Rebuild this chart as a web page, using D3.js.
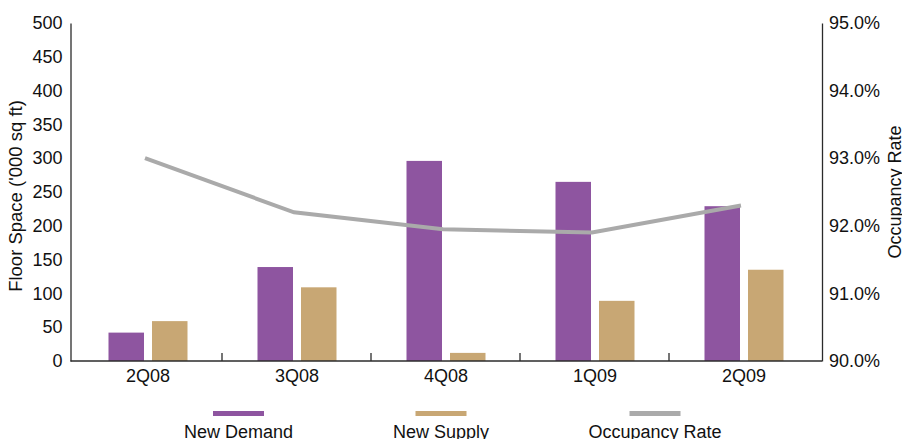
<!DOCTYPE html>
<html>
<head>
<meta charset="utf-8">
<script src="https://cdn.jsdelivr.net/npm/d3@7"></script>
<style>
  html, body { margin: 0; padding: 0; background: #fff; }
  svg { display: block; font-family: "Liberation Sans", Arial, sans-serif; }
</style>
</head>
<body>
<svg id="chart" width="902" height="439"></svg>
<script>
// Quarterly office floor space and occupancy
const quarters = ["2Q08", "3Q08", "4Q08", "1Q09", "2Q09"];
const newDemand = [42, 139, 296, 265, 229];
const newSupply = [59, 109, 12, 89, 135];
const occupancy = [93.0, 92.2, 91.95, 91.9, 92.3];
const leftTicks = [0, 50, 100, 150, 200, 250, 300, 350, 400, 450, 500];
const rightTicks = [90, 91, 92, 93, 94, 95];

const colors = { demand: "#8E55A0", supply: "#C8A774", occupancy: "#AAAAAA" };
const axisColor = "#2b2b2b";

const svg = d3.select("#chart");
const plot = { left: 70.5, right: 822, top: 23, bottom: 361 };

const x = d3.scaleBand().domain(quarters).range([73.5, 818.5]).paddingInner(0).paddingOuter(0);
const yLeft = d3.scaleLinear().domain([0, 500]).range([plot.bottom, plot.top]);
const yRight = d3.scaleLinear().domain([90, 95]).range([plot.bottom, plot.top]);

const barW = 35.5, gap = 8;
const center = q => x(q) + x.bandwidth() / 2;

// bars
const g = svg.append("g");
g.selectAll("rect.demand").data(quarters).join("rect")
  .attr("class", "demand")
  .attr("x", (q) => center(q) - gap / 2 - barW)
  .attr("width", barW)
  .attr("y", (q, i) => yLeft(newDemand[i]))
  .attr("height", (q, i) => yLeft(0) - yLeft(newDemand[i]))
  .attr("fill", colors.demand);

g.selectAll("rect.supply").data(quarters).join("rect")
  .attr("class", "supply")
  .attr("x", (q) => center(q) + gap / 2)
  .attr("width", barW)
  .attr("y", (q, i) => yLeft(newSupply[i]))
  .attr("height", (q, i) => yLeft(0) - yLeft(newSupply[i]))
  .attr("fill", colors.supply);

// occupancy line
const line = d3.line()
  .x((d, i) => center(quarters[i]) - 3)
  .y(d => yRight(d));
svg.append("path")
  .datum(occupancy)
  .attr("d", line)
  .attr("fill", "none")
  .attr("stroke", colors.occupancy)
  .attr("stroke-width", 4);

// left axis
const leftAxis = svg.append("g")
  .attr("transform", `translate(${plot.left},0)`)
  .call(d3.axisLeft(yLeft).tickValues(leftTicks).tickSize(0).tickPadding(8));
leftAxis.select(".domain").attr("stroke", axisColor).attr("stroke-width", 1.3);
leftAxis.selectAll("text").attr("font-size", 18).attr("fill", "#111")
  .attr("font-family", "Liberation Sans, Arial, sans-serif");

// right axis
const rightAxis = svg.append("g")
  .attr("transform", `translate(${plot.right},0)`)
  .call(d3.axisRight(yRight).tickValues(rightTicks).tickSize(0).tickPadding(7)
    .tickFormat(d => d3.format(".1f")(d) + "%"));
rightAxis.select(".domain").attr("stroke", axisColor).attr("stroke-width", 1.3);
rightAxis.selectAll("text").attr("font-size", 18).attr("fill", "#111")
  .attr("font-family", "Liberation Sans, Arial, sans-serif");

// category axis: baseline, inner boundary ticks, labels
svg.append("line")
  .attr("x1", plot.left).attr("x2", plot.right)
  .attr("y1", plot.bottom).attr("y2", plot.bottom)
  .attr("stroke", axisColor).attr("stroke-width", 1.5);
svg.selectAll("line.qtick").data(quarters.slice(1)).join("line")
  .attr("class", "qtick")
  .attr("x1", q => x(q) - 0.5).attr("x2", q => x(q) - 0.5)
  .attr("y1", plot.bottom).attr("y2", plot.bottom - 8)
  .attr("stroke", axisColor).attr("stroke-width", 1.3);
svg.selectAll("text.qlabel").data(quarters).join("text")
  .attr("class", "qlabel")
  .attr("x", q => center(q))
  .attr("y", 381.5)
  .attr("text-anchor", "middle")
  .attr("font-size", 18).attr("fill", "#111")
  .text(q => q);

// axis titles
svg.append("text")
  .attr("transform", `translate(22,${(plot.top + plot.bottom) / 2 + 4}) rotate(-90)`)
  .attr("text-anchor", "middle")
  .attr("font-size", 18.5).attr("fill", "#111")
  .text("Floor Space ('000 sq ft)");
svg.append("text")
  .attr("transform", `translate(901,${(plot.top + plot.bottom) / 2}) rotate(-90)`)
  .attr("text-anchor", "middle")
  .attr("font-size", 18).attr("fill", "#111")
  .text("Occupancy Rate");

// legend
const legendItems = [
  { label: "New Demand", color: colors.demand, cx: 238.5 },
  { label: "New Supply", color: colors.supply, cx: 441 },
  { label: "Occupancy Rate", color: colors.occupancy, cx: 655 }
];
const legend = svg.append("g");
legend.selectAll("rect").data(legendItems).join("rect")
  .attr("x", d => d.cx - 25.5).attr("y", 411)
  .attr("width", 51).attr("height", 5)
  .attr("fill", d => d.color);
legend.selectAll("text").data(legendItems).join("text")
  .attr("x", d => d.cx).attr("y", 437.5)
  .attr("text-anchor", "middle")
  .attr("font-size", 18).attr("fill", "#111")
  .text(d => d.label);
</script>
</body>
</html>
